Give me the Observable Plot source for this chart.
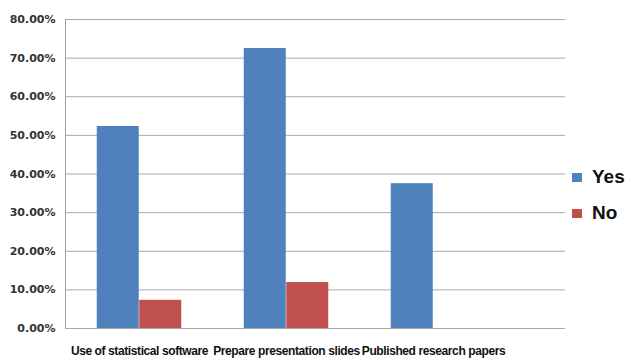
<!DOCTYPE html>
<html>
<head>
<meta charset="utf-8">
<script src="https://cdn.jsdelivr.net/npm/d3@7"></script>
<script src="https://cdn.jsdelivr.net/npm/@observablehq/plot@0.6"></script>
<style>
  html, body { margin: 0; padding: 0; background: #fff; }
  #wrap { position: relative; width: 628px; height: 358px; }
  #legend { position: absolute; left: 572px; top: 159px; font-family: "Liberation Sans", Arial, sans-serif; font-weight: bold; font-size: 19px; color: #111; }
  .item { display: flex; align-items: center; height: 36px; }
  .sw { width: 10px; height: 9px; margin-right: 10px; }
  .xlab text { letter-spacing: -0.4px; }
</style>
</head>
<body>
<div id="wrap"></div>
<script>
const categories = ["Use of statistical software", "Prepare presentation slides", "Published research papers"];
const series = ["Yes", "No"];
const yesValues = [0.523, 0.725, 0.375];
const noValues = [0.073, 0.119, 0];
const yTicks = [0, 0.1, 0.2, 0.3, 0.4, 0.5, 0.6, 0.7, 0.8];
const colors = ["#4f81bd", "#c0504d"];

const yesData = categories.map((c, i) => ({category: c, value: yesValues[i]}));
const noData = categories.map((c, i) => ({category: c, value: noValues[i]}));

const chart = Plot.plot({
  width: 628,
  height: 358,
  marginLeft: 65,
  marginRight: 63,
  marginTop: 19,
  marginBottom: 30,
  style: {background: "#fff"},
  x: {domain: categories, range: [65, 507.5], paddingInner: 0.712, paddingOuter: 0.356, label: null},
  y: {domain: [0, 0.8], label: null},
  marks: [
    Plot.ruleY(yTicks, {stroke: "#a9a9a9", strokeWidth: 1}),
    Plot.barY(yesData, {x: "category", y: "value", fill: colors[0], dx: -21.25}),
    Plot.barY(noData, {x: "category", y: "value", fill: colors[1], dx: 21.25}),
    Plot.axisY({ticks: yTicks, tickSize: 0, tickPadding: 10, tickFormat: d => (d * 100).toFixed(2) + "%",
      fontSize: 11, fontWeight: "bold", fontFamily: "DejaVu Sans", fill: "#333", label: null}),
    Plot.axisX({tickSize: 0, tickPadding: 18, fontSize: 12, fontWeight: "bold", className: "xlab",
      fontFamily: "Liberation Sans Narrow, Liberation Sans", fill: "#111", stroke: "#111", strokeWidth: 0.3, label: null})
  ]
});

// left axis line on the frame's left edge
const svg = d3.select(chart);
svg.append("line")
  .attr("x1", 65.5).attr("x2", 65.5).attr("y1", 19).attr("y2", 328)
  .attr("stroke", "#a0a0a0");

document.getElementById("wrap").appendChild(chart);

const legend = document.createElement("div");
legend.id = "legend";
series.forEach((s, i) => {
  const item = document.createElement("div");
  item.className = "item";
  const sw = document.createElement("div");
  sw.className = "sw";
  sw.style.background = colors[i];
  const t = document.createElement("span");
  t.textContent = s;
  item.appendChild(sw);
  item.appendChild(t);
  legend.appendChild(item);
});
document.getElementById("wrap").appendChild(legend);
</script>
</body>
</html>
